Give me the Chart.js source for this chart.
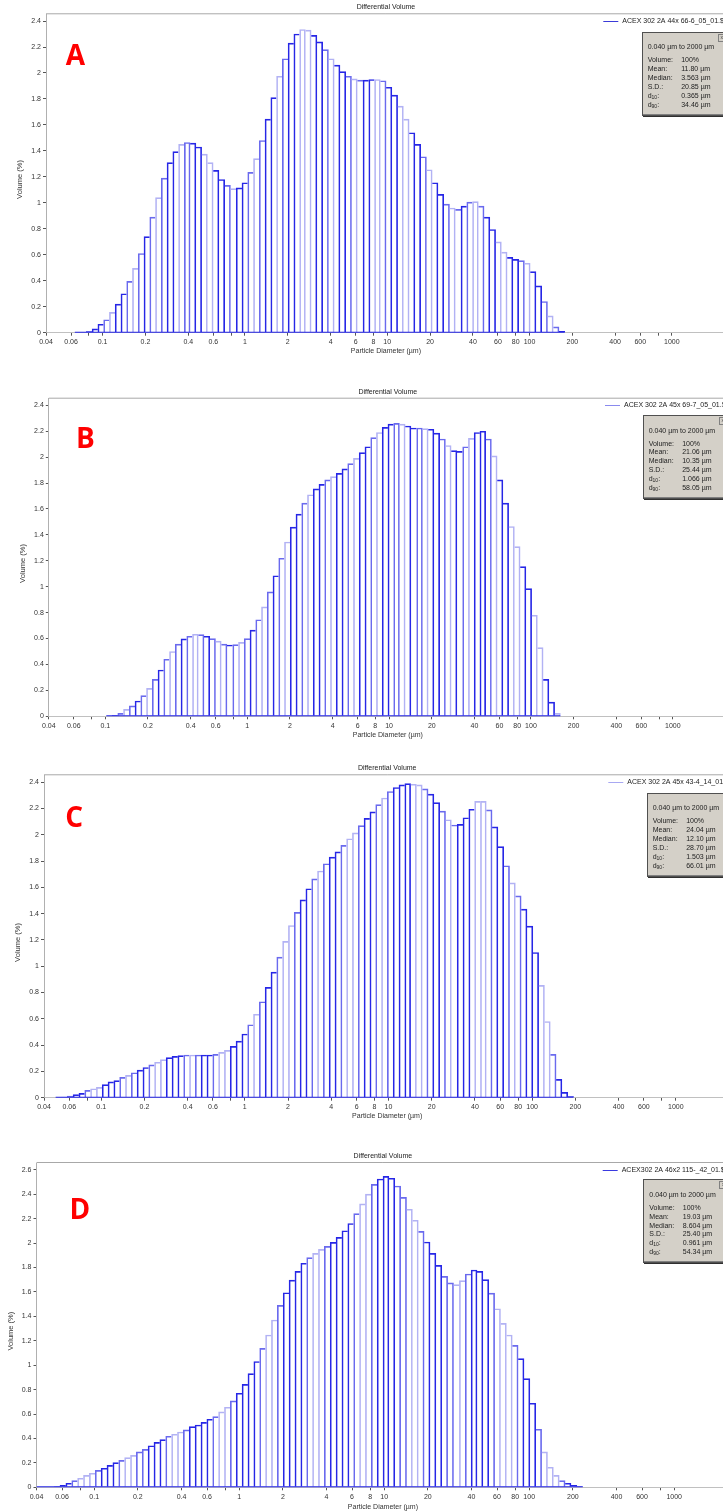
<!DOCTYPE html>
<html>
<head>
<meta charset="utf-8">
<title>Differential Volume</title>
<script src="https://cdn.jsdelivr.net/npm/chart.js@4.4.1/dist/chart.umd.min.js"></script>
<style>
    body { margin: 0; background: #fff; }
    #page {
        position: relative; width: 723px; height: 1512px; overflow: hidden;
        background: #fff; font-family: "Liberation Sans", Arial, sans-serif;
    }
    .panel { position: absolute; left: 0; }
    .panel canvas { display: block; }
    .tag {
        position: absolute; font: 700 28px/28px "Open Sans", sans-serif; color: #ff0000;
    }
    .stats {
        position: absolute; width: 85px; height: 84px; box-sizing: border-box;
        background: #d4d0c8; border: 1px solid #505050;
        box-shadow: inset -1px -1px 0 #808080, 1px 1px 0 #303030;
        font-size: 7px; color: #222;
    }
    .stats div { position: absolute; line-height: 9px; white-space: nowrap; }
    .stats .close {
        right: 0; top: 1px; width: 6px; height: 6px; line-height: 5px; font-size: 5px;
        border: 1px solid #808080; text-align: center; color: #444;
    }
    .stats sub { font-size: 5px; vertical-align: -1px; }
</style>
</head>
<body>
<div id="page"></div>

<script>
// ==========================================
// 粒徑分佈 (LS 13 320) — Differential Volume
// ==========================================

// ── 通道 (116 channels, 0.04 – 2000 µm) ──
const CHANNEL_COUNT = 116;
const SIZE_MIN = 0.04;
const SIZE_MAX = 2000;
const AXIS_MIN = 0.04;
const AXIS_MAX = 2400;

// ── 座標軸刻度 ──
const X_TICKS       = [0.04, 0.06, 0.08, 0.1, 0.2, 0.4, 0.6, 0.8, 1, 2, 4, 6, 8, 10, 20, 40, 60, 80, 100, 200, 400, 600, 800, 1000];
const X_TICK_LABELS = ['0.04', '0.06', '', '0.1', '0.2', '0.4', '0.6', '', '1', '2', '4', '6', '8', '10', '20', '40', '60', '80', '100', '200', '400', '600', '', '1000'];
const Y_TICKS_24    = [0, 0.2, 0.4, 0.6, 0.8, 1, 1.2, 1.4, 1.6, 1.8, 2, 2.2, 2.4];
const Y_TICKS_26    = [0, 0.2, 0.4, 0.6, 0.8, 1, 1.2, 1.4, 1.6, 1.8, 2, 2.2, 2.4, 2.6];

// ── 統計欄位 ──
const STAT_LABELS = ['Volume:', 'Mean:', 'Median:', 'S.D.:', 'd<sub>10</sub>:', 'd<sub>90</sub>:'];
const STAT_RANGE  = '0.040 µm to 2000 µm';

// ── A: ACEX 302 2A 44x 66-6 ──
const A_NAME  = 'ACEX 302 2A 44x 66-6_05_01.$ls';
const A_START = 5;
const A_VOLUME = [
    0, 0, 0.01, 0.03, 0.065, 0.10, 0.157, 0.22, 0.30, 0.395,
    0.495, 0.61, 0.74, 0.89, 1.04, 1.19, 1.31, 1.395, 1.45, 1.465,
    1.46, 1.43, 1.375, 1.31, 1.25, 1.18, 1.135, 1.11, 1.115, 1.155,
    1.235, 1.34, 1.48, 1.645, 1.81, 1.975, 2.11, 2.23, 2.30, 2.335,
    2.33, 2.29, 2.24, 2.18, 2.11, 2.06, 2.01, 1.975, 1.955, 1.945,
    1.945, 1.95, 1.95, 1.94, 1.89, 1.83, 1.745, 1.645, 1.54, 1.45,
    1.355, 1.255, 1.155, 1.065, 0.99, 0.96, 0.95, 0.975, 1.005, 1.01,
    0.975, 0.89, 0.795, 0.70, 0.62, 0.58, 0.565, 0.555, 0.535, 0.47,
    0.36, 0.24, 0.13, 0.045, 0.01
];
const A_STATS = ['100%', '11.80 µm', '3.563 µm', '20.85 µm', '0.365 µm', '34.46 µm'];

// ── B: ACEX 302 2A 45x 69-7 ──
const B_NAME  = 'ACEX 302 2A 45x 69-7_05_01.$ls';
const B_START = 10;
const B_VOLUME = [
    0, 0.008, 0.023, 0.054, 0.08, 0.118, 0.16, 0.215, 0.285, 0.357,
    0.44, 0.50, 0.557, 0.597, 0.618, 0.633, 0.63, 0.618, 0.60, 0.58,
    0.557, 0.55, 0.553, 0.57, 0.60, 0.665, 0.745, 0.845, 0.96, 1.085,
    1.22, 1.345, 1.46, 1.56, 1.645, 1.71, 1.755, 1.79, 1.825, 1.85,
    1.875, 1.91, 1.95, 1.99, 2.035, 2.08, 2.15, 2.19, 2.23, 2.255,
    2.26, 2.255, 2.24, 2.225, 2.225, 2.22, 2.215, 2.185, 2.14, 2.09,
    2.05, 2.045, 2.08, 2.145, 2.19, 2.20, 2.14, 2.01, 1.825, 1.645,
    1.465, 1.31, 1.155, 0.985, 0.78, 0.53, 0.285, 0.11, 0.023
];
const B_STATS = ['100%', '21.06 µm', '10.35 µm', '25.44 µm', '1.066 µm', '58.05 µm'];

// ── C: ACEX 302 2A 45x 43-4 ──
const C_NAME  = 'ACEX 302 2A 45x 43-4_14_01.$ls';
const C_START = 2;
const C_VOLUME = [
    0, 0.005, 0.013, 0.023, 0.033, 0.056, 0.068, 0.079, 0.10, 0.12,
    0.13, 0.155, 0.17, 0.19, 0.21, 0.23, 0.25, 0.27, 0.29, 0.305,
    0.315, 0.32, 0.325, 0.325, 0.325, 0.325, 0.325, 0.33, 0.345, 0.36,
    0.39, 0.43, 0.485, 0.555, 0.635, 0.73, 0.84, 0.955, 1.07, 1.19,
    1.31, 1.41, 1.505, 1.59, 1.665, 1.725, 1.78, 1.83, 1.87, 1.92,
    1.97, 2.015, 2.07, 2.125, 2.175, 2.23, 2.28, 2.33, 2.36, 2.38,
    2.39, 2.385, 2.38, 2.35, 2.31, 2.245, 2.18, 2.115, 2.075, 2.08,
    2.13, 2.195, 2.255, 2.255, 2.19, 2.06, 1.91, 1.765, 1.635, 1.535,
    1.435, 1.305, 1.105, 0.855, 0.58, 0.33, 0.14, 0.04, 0.01
];
const C_STATS = ['100%', '24.04 µm', '12.10 µm', '28.70 µm', '1.503 µm', '66.01 µm'];

// ── D: ACEX302 2A 46x2 115 ──
const D_NAME  = 'ACEX302 2A 46x2 115-_42_01.$ls';
const D_START = 0;
const D_VOLUME = [
    0, 0, 0, 0.005, 0.016, 0.033, 0.055, 0.074, 0.098, 0.115,
    0.139, 0.156, 0.18, 0.202, 0.22, 0.243, 0.262, 0.29, 0.31, 0.34,
    0.368, 0.39, 0.418, 0.434, 0.453, 0.47, 0.497, 0.51, 0.532, 0.557,
    0.578, 0.617, 0.655, 0.707, 0.77, 0.843, 0.93, 1.03, 1.138, 1.247,
    1.37, 1.49, 1.593, 1.696, 1.768, 1.834, 1.88, 1.915, 1.948, 1.973,
    2.005, 2.046, 2.10, 2.16, 2.24, 2.32, 2.40, 2.48, 2.524, 2.545,
    2.53, 2.467, 2.374, 2.276, 2.186, 2.095, 2.008, 1.915, 1.817, 1.727,
    1.673, 1.659, 1.692, 1.746, 1.779, 1.768, 1.70, 1.59, 1.462, 1.342,
    1.247, 1.162, 1.053, 0.89, 0.688, 0.475, 0.29, 0.164, 0.098, 0.055,
    0.033, 0.016, 0.005
];
const D_STATS = ['100%', '19.03 µm', '8.604 µm', '25.40 µm', '0.961 µm', '54.34 µm'];

// ==========================================
// 版面 (page coordinates)
// ==========================================
const CANVAS_W   = 740;
const BAR_DARK   = '#2626e6';
const BAR_MID    = '#6a6aee';
const BAR_LIGHT  = '#b2b2f4';
const TEXT_COLOR = '#333';

const PANELS = [
    { tag: 'A', name: A_NAME, start: A_START, volume: A_VOLUME, stats: A_STATS,
      top: 0, height: 383, area: { top: 14.3, bottom: 332.7, left: 46, right: 725.9 },
      yMax: 2.452, yTicks: Y_TICKS_24, xTitleGap: 18.6,
      legendX: 603.3, legendColor: '#3a3ad8', box: { left: 641.7, top: 31.7 }, tagPos: { left: 65.7, top: 40.1 } },
    { tag: 'B', name: B_NAME, start: B_START, volume: B_VOLUME, stats: B_STATS,
      top: 383, height: 383, area: { top: 398.7, bottom: 716.3, left: 48.8, right: 726.8 },
      yMax: 2.451, yTicks: Y_TICKS_24, xTitleGap: 18.7,
      legendX: 605, legendColor: '#8a8aee', box: { left: 642.7, top: 415 }, tagPos: { left: 76, top: 422.8 } },
    { tag: 'C', name: C_NAME, start: C_START, volume: C_VOLUME, stats: C_STATS,
      top: 758, height: 392, area: { top: 775.3, bottom: 1097.7, left: 44, right: 730.4 },
      yMax: 2.453, yTicks: Y_TICKS_24, xTitleGap: 18.3,
      legendX: 608.3, legendColor: '#a8a8f2', box: { left: 646.7, top: 792.7 }, tagPos: { left: 65.2, top: 801.5 } },
    { tag: 'D', name: D_NAME, start: D_START, volume: D_VOLUME, stats: D_STATS,
      top: 1146, height: 366, area: { top: 1163, bottom: 1487.3, left: 36.5, right: 729.3 },
      yMax: 2.655, yTicks: Y_TICKS_26, xTitleGap: 19.4,
      legendX: 602.7, legendColor: '#3a3ae0', box: { left: 643.3, top: 1179.3 }, tagPos: { left: 69.4, top: 1194.4 } }
];

// ── 通道中心 / 邊界 (geometric) ──
const RATIO = Math.pow(SIZE_MAX / SIZE_MIN, 1 / CHANNEL_COUNT);
function channelEdge(i) {
    return SIZE_MIN * Math.pow(RATIO, i);
}
function channelCenter(i) {
    return SIZE_MIN * Math.pow(RATIO, i + 0.5);
}

// ── 直方圖外框：共用邊由較高的柱子畫 ──
function histEdges(ctx) {
    if (ctx.type !== 'data') return 1;
    const d = ctx.dataset.data;
    const i = ctx.dataIndex;
    const h    = d[i].y;
    const prev = i > 0 ? d[i - 1].y : 0;
    const next = i < d.length - 1 ? d[i + 1].y : 0;
    return { top: 1, bottom: 0, left: h >= prev ? 1 : 0, right: h > next ? 1 : 0 };
}

// ── 線條深淺：依像素相位 (模仿原圖縮放後的深淺) ──
function histColor(ctx) {
    if (ctx.type !== 'data') return BAR_DARK;
    const k = ctx.chart.$start + ctx.dataIndex;
    const px = ctx.chart.scales.x.getPixelForValue(channelEdge(k));
    const f = px - Math.floor(px);
    const d = Math.min(f, 1 - f);
    if (d < 0.22) return BAR_DARK;
    if (d < 0.36) return BAR_MID;
    return BAR_LIGHT;
}

// ── 標題、圖例、外框、Y 軸標題 ──
const sheetPlugin = {
    id: 'sheet',
    afterDraw(chart, args, p) {
        const { ctx, chartArea: a } = chart;
        ctx.save();

        // top frame line
        ctx.strokeStyle = '#a8a8a8';
        ctx.lineWidth = 1;
        ctx.beginPath();
        ctx.moveTo(a.left, a.top - 0.5);
        ctx.lineTo(a.right, a.top - 0.5);
        ctx.stroke();

        ctx.fillStyle = '#222';
        ctx.font = '7px "Liberation Sans", Arial, sans-serif';
        ctx.textBaseline = 'middle';

        // title
        ctx.textAlign = 'center';
        ctx.fillText('Differential Volume', (a.left + a.right) / 2, a.top - 6.8);

        // legend
        const ly = Math.round(a.top + 6.5) + 0.5;
        ctx.strokeStyle = p.legendColor;
        ctx.beginPath();
        ctx.moveTo(p.legendX, ly);
        ctx.lineTo(p.legendX + 15, ly);
        ctx.stroke();
        ctx.textAlign = 'left';
        ctx.fillText(p.name, p.legendX + 19, ly);

        // y title
        ctx.font = '7.5px "Liberation Sans", Arial, sans-serif';
        ctx.fillStyle = TEXT_COLOR;
        ctx.translate(a.left - 25.6, (a.top + a.bottom) / 2 + 6);
        ctx.rotate(-Math.PI / 2);
        ctx.textAlign = 'center';
        ctx.fillText('Volume (%)', 0, 0);

        ctx.restore();
    }
};

const TICK_FONT = { family: '"Liberation Sans", Arial, sans-serif', size: 7 };

function makePanel(p) {
    const page = document.getElementById('page');

    // canvas
    const holder = document.createElement('div');
    holder.className = 'panel';
    holder.style.top = p.top + 'px';
    const canvas = document.createElement('canvas');
    canvas.width = CANVAS_W;
    canvas.height = p.height;
    canvas.style.width = CANVAS_W + 'px';
    canvas.style.height = p.height + 'px';
    holder.appendChild(canvas);
    page.appendChild(holder);

    // local geometry
    const a = {
        top: p.area.top - p.top, bottom: p.area.bottom - p.top,
        left: p.area.left, right: p.area.right
    };
    const xAxisH = p.xTitleGap + 4.2;
    const lastEdge = p.start + p.volume.length;

    new Chart(canvas.getContext('2d'), {
        type: 'bar',
        data: {
            datasets: [{
                // 基線 (量測範圍內的 0 線)
                type: 'line',
                label: 'baseline',
                data: [{ x: channelEdge(p.start), y: 0 }, { x: channelEdge(lastEdge), y: 0 }],
                borderColor: BAR_DARK,
                borderWidth: 2,
                pointRadius: 0,
                clip: 0,
                order: -1
            }, {
                label: p.name,
                data: p.volume.map((v, k) => ({ x: channelCenter(p.start + k), y: v })),
                backgroundColor: 'rgba(0,0,0,0)',
                borderColor: histColor,
                borderWidth: histEdges,
                borderSkipped: false,
                barPercentage: 1,
                categoryPercentage: 1,
                order: 0
            }]
        },
        options: {
            responsive: false,
            animation: false,
            events: [],
            layout: {
                padding: {
                    top: a.top, left: 0,
                    right: CANVAS_W - a.right,
                    bottom: p.height - a.bottom - xAxisH
                }
            },
            plugins: {
                legend: { display: false },
                title: { display: false },
                tooltip: { enabled: false },
                sheet: p
            },
            scales: {
                x: {
                    type: 'logarithmic',
                    min: AXIS_MIN,
                    max: AXIS_MAX,
                    offset: false,
                    afterBuildTicks: s => { s.ticks = X_TICKS.map(v => ({ value: v })); },
                    afterFit: s => { s.height = xAxisH; },
                    ticks: {
                        autoSkip: false, maxRotation: 0, minRotation: 0,
                        padding: 2.5, color: TEXT_COLOR, font: TICK_FONT,
                        callback: (v, i) => X_TICK_LABELS[i]
                    },
                    grid: { offset: false, drawOnChartArea: false, tickLength: 3, color: '#555' },
                    border: { color: '#c0c0c0', width: 1 },
                    title: {
                        display: true, text: 'Particle Diameter (µm)',
                        color: TEXT_COLOR, font: TICK_FONT, padding: { top: 0, bottom: 0 }
                    }
                },
                y: {
                    type: 'linear',
                    min: 0,
                    max: p.yMax,
                    afterBuildTicks: s => { s.ticks = p.yTicks.map(v => ({ value: v })); },
                    afterFit: s => { s.width = a.left; },
                    ticks: {
                        padding: 2, color: TEXT_COLOR, font: TICK_FONT,
                        callback: v => String(+Number(v).toFixed(1))
                    },
                    grid: { drawOnChartArea: false, tickLength: 3, color: '#555' },
                    border: { color: '#b0b0b0', width: 1 }
                }
            }
        },
        plugins: [sheetPlugin, {
            id: 'startIndex',
            beforeInit(c) { c.$start = p.start; }
        }]
    });

    // 面板字母
    const tag = document.createElement('div');
    tag.className = 'tag';
    tag.textContent = p.tag;
    tag.style.left = p.tagPos.left + 'px';
    tag.style.top = p.tagPos.top + 'px';
    page.appendChild(tag);

    // 統計框
    const box = document.createElement('div');
    box.className = 'stats';
    box.style.left = p.box.left + 'px';
    box.style.top = p.box.top + 'px';
    let html = `<div class="close">x</div>`;
    html += `<div style="left:5px; top:9.5px;">${STAT_RANGE}</div>`;
    STAT_LABELS.forEach((label, i) => {
        const y = 22.5 + i * 8.9;
        html += `<div style="left:5px; top:${y}px;">${label}</div>`;
        html += `<div style="left:38.5px; top:${y}px;">${p.stats[i]}</div>`;
    });
    box.innerHTML = html;
    page.appendChild(box);
}

PANELS.forEach(makePanel);
</script>
</body>
</html>
